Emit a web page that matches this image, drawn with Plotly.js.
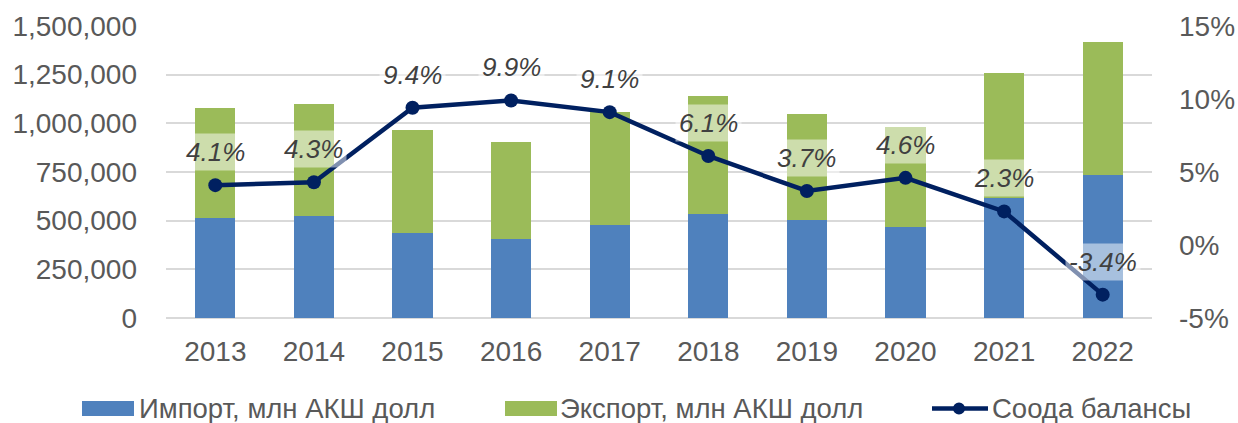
<!DOCTYPE html>
<html>
<head>
<meta charset="utf-8">
<script src="https://cdn.plot.ly/plotly-3.0.1.min.js"></script>
<style>
html,body{margin:0;padding:0;background:#fff;}
#chart{width:1238px;height:423px;}
</style>
</head>
<body>
<div id="chart"></div>
<script>
const years = ["2013","2014","2015","2016","2017","2018","2019","2020","2021","2022"];
const importVals = [515000, 525000, 436000, 407000, 477000, 535000, 503000, 469000, 618000, 733000];
const exportVals = [563000, 574000, 529000, 496000, 580000, 606000, 544000, 513000, 643000, 684000];
const balanceVals = [4.1, 4.3, 9.4, 9.9, 9.1, 6.1, 3.7, 4.6, 2.3, -3.4];
const leftTicks = [0, 250000, 500000, 750000, 1000000, 1250000, 1500000];
const rightTicks = [-5, 0, 5, 10, 15];
const seriesNames = ['Импорт, млн АКШ долл', 'Экспорт, млн АКШ долл', 'Соода балансы'];

const FONT = '"Liberation Sans", Arial, sans-serif';
const tickColor = '#595959';
const COL_IMP = '#4f81bd', COL_EXP = '#9bbb59', COL_BAL = '#002060';

const W = 1238, H = 423;
const M = {l: 166, r: 86, t: 26, b: 105};
const PW = W - M.l - M.r, PH = H - M.t - M.b;
const px = v => (v - M.l) / PW;           // pixel -> paper x (legend placement only)
const py = v => (H - M.b - v) / PH;       // pixel -> paper y (legend placement only)

const traces = [
  {type: 'bar', name: seriesNames[0], x: years, y: importVals,
   marker: {color: COL_IMP}, hoverinfo: 'skip'},
  {type: 'bar', name: seriesNames[1], x: years, y: exportVals,
   marker: {color: COL_EXP}, hoverinfo: 'skip'},
  {type: 'scatter', mode: 'lines+markers', name: seriesNames[2], x: years, y: balanceVals,
   yaxis: 'y2', line: {color: COL_BAL, width: 4.5},
   marker: {color: COL_BAL, size: 14}, hoverinfo: 'skip'}
];

// value labels (category axis: x given as category index)
const annotations = years.map((yr, i) => ({
  x: i, y: balanceVals[i], xref: 'x', yref: 'y2',
  text: balanceVals[i].toFixed(1) + '%',
  showarrow: false, yshift: 33,
  font: {family: FONT, size: 26, color: '#404040', style: 'italic'},
  bgcolor: 'rgba(255,255,255,0.5)', borderpad: 3
}));

// legend (drawn below the plot)
const legendY = 408.5;
const legendText = [
  {name: seriesNames[0], left: 138},
  {name: seriesNames[1], left: 559},
  {name: seriesNames[2], left: 991}
];
legendText.forEach(o => annotations.push({
  xref: 'paper', yref: 'paper', x: px(o.left), y: py(legendY),
  xanchor: 'left', yanchor: 'middle', showarrow: false, text: o.name,
  font: {family: FONT, size: 27.5, color: tickColor}, borderpad: 0
}));
const shapes = [
  {type: 'rect', xref: 'paper', yref: 'paper', x0: px(82), x1: px(134), y0: py(416), y1: py(401),
   fillcolor: COL_IMP, line: {width: 0}},
  {type: 'rect', xref: 'paper', yref: 'paper', x0: px(505), x1: px(557), y0: py(416), y1: py(401),
   fillcolor: COL_EXP, line: {width: 0}},
  {type: 'line', xref: 'paper', yref: 'paper', x0: px(932), x1: px(988), y0: py(legendY), y1: py(legendY),
   line: {color: COL_BAL, width: 4.5}},
  {type: 'circle', xref: 'paper', yref: 'paper', x0: px(953), x1: px(965), y0: py(legendY + 6), y1: py(legendY - 6),
   fillcolor: COL_BAL, line: {width: 0}}
];

const layout = {
  width: W, height: H, margin: M,
  paper_bgcolor: '#ffffff', plot_bgcolor: '#ffffff',
  barmode: 'stack', bargap: 0.594,
  font: {family: FONT, color: tickColor},
  showlegend: false,
  xaxis: {
    type: 'category', range: [-0.5, years.length - 0.5],
    tickfont: {family: FONT, size: 28, color: tickColor},
    showgrid: false, showline: false, ticks: '', ticklabelstandoff: 14
  },
  yaxis: {
    range: [0, 1500000], tickmode: 'array', tickvals: leftTicks, tickformat: ',d',
    tickfont: {family: FONT, size: 28, color: tickColor},
    showgrid: true, gridcolor: '#d9d9d9', gridwidth: 2,
    zeroline: true, zerolinecolor: '#d9d9d9', zerolinewidth: 2,
    showline: false, ticks: '', ticklabelstandoff: 28
  },
  yaxis2: {
    overlaying: 'y', side: 'right', range: [-5, 15],
    tickmode: 'array', tickvals: rightTicks, ticktext: rightTicks.map(v => v + '%'),
    tickfont: {family: FONT, size: 28, color: tickColor},
    showgrid: false, zeroline: false, showline: false, ticks: '', ticklabelstandoff: 26
  },
  annotations: annotations,
  shapes: shapes
};

Plotly.newPlot('chart', traces, layout, {displayModeBar: false, staticPlot: true});
</script>
</body>
</html>
